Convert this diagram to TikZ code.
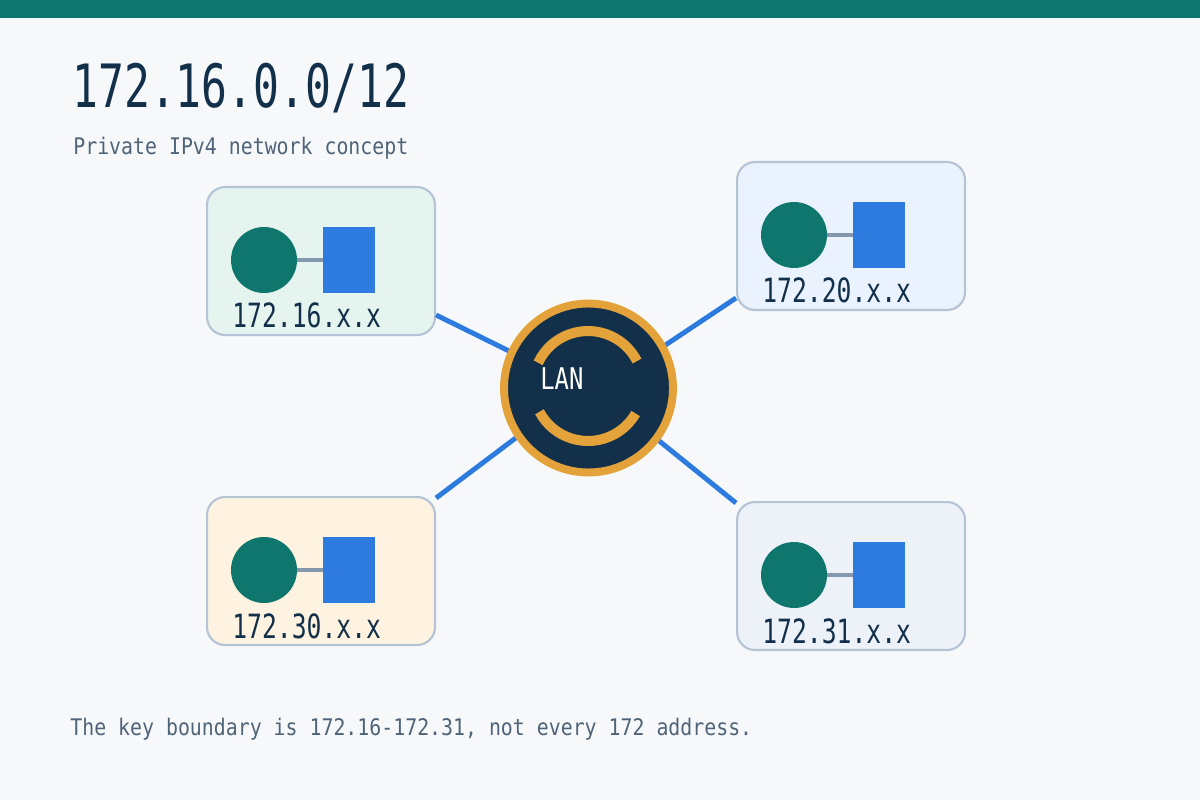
\documentclass[tikz,border=0pt]{standalone}
\usepackage{fontspec}
\setmainfont{DejaVu Sans Mono}
\begin{document}
\begin{tikzpicture}[x=0.02cm,y=-0.02cm,
  box/.style={draw=boxb,line width=1.2pt,rounded corners=0.36cm},
  conn/.style={draw=blu,line width=2.8pt},
  lbl/.style={anchor=base west,font=\fontsize{19pt}{19pt}\selectfont\addfontfeature{FakeStretch=0.74},text=navy,inner sep=0}]
\definecolor{bg}{HTML}{F6F8FA}\definecolor{teal7}{HTML}{0E766C}
\definecolor{blu}{HTML}{2E7BE0}\definecolor{boxb}{HTML}{B5C4D4}
\definecolor{navy}{HTML}{13304A}\definecolor{org}{HTML}{E3A33A}
\definecolor{gry}{HTML}{8497AD}\definecolor{sub}{HTML}{4F6478}
\useasboundingbox (0,0) rectangle (1200,800);
\fill[bg] (0,0) rectangle (1200,800);
\fill[teal7] (0,0) rectangle (1200,18);
\node[anchor=base west,inner sep=0,text=navy,font=\fontsize{34pt}{34pt}\selectfont\addfontfeature{FakeStretch=0.72}] (title) at (72,108) {172.16.0.0/12};
\node[anchor=base west,inner sep=0,text=sub,font=\fontsize{13pt}{14pt}\selectfont\addfontfeature{FakeStretch=0.87}] (subt) at (73,155) {Private IPv4 network concept};
\coordinate (c) at (588.5,388);
\coordinate (c2) at (588,386);
\foreach \n/\x/\y/\col in {a/206/186/E6F4F0, b/736/161/EAF2FD, d/206/496/FDF3E0, e/736/501/EDF2F8}{
  \definecolor{bx}{HTML}{\col}
  \node[box,fill=bx,minimum width=4.56cm,minimum height=2.96cm,anchor=north west,inner sep=0] (\n) at (\x,\y) {};
}
\draw[conn] (a.east |- 0,315) -- (511,352);
\draw[conn] (b.west |- 0,298) -- (664,346);
\draw[conn] (d.east |- 0,498) -- (517,437);
\draw[conn] (e.west |- 0,503) -- (658,440);
\foreach \n/\x/\y/\t in {a/206/186/172.16.x.x, b/736/161/172.20.x.x, d/206/496/172.30.x.x, e/736/501/172.31.x.x}{
  \draw[gry,line width=2.8pt] (\x+58,\y+74) -- (\x+130,\y+74);
  \fill[teal7] (\x+58,\y+74) circle (0.66cm);
  \fill[blu] (\x+117,\y+41) rectangle (\x+169,\y+107);
  \node[lbl] (\n t) at (\x+26,\y+142) {\t};
}
\node[circle,fill=navy,draw=org,line width=4.5pt,minimum size=3.38cm] (lan) at (c) {};
\draw[org,line width=5.7pt] ([shift={(-155:55)}]c2) arc[start angle=-155,end angle=-27,radius=55];
\draw[org,line width=5.7pt] ([shift={(-208:55)}]c2) arc[start angle=-208,end angle=-330,radius=55];
\node[anchor=base west,inner sep=0,text=white,font=\fontsize{17pt}{17pt}\selectfont\addfontfeature{FakeStretch=0.8}] (lant) at (540,390) {LAN};
\node[anchor=base west,inner sep=0,text=sub,font=\fontsize{13pt}{14pt}\selectfont\addfontfeature{FakeStretch=0.87}] (foot) at (70,735) {The key boundary is 172.16-172.31, not every 172 address.};
\end{tikzpicture}
\end{document}
